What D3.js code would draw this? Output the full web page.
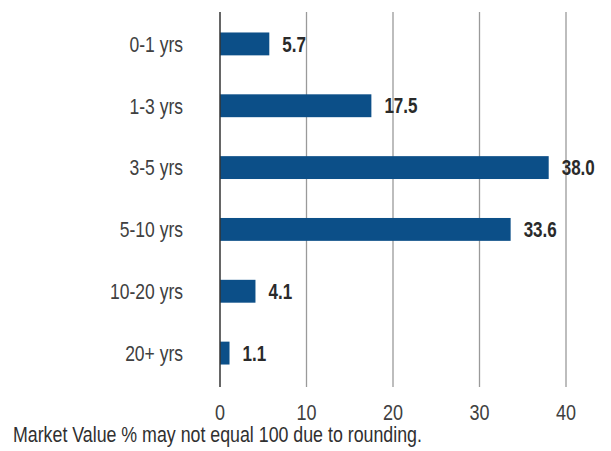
<!DOCTYPE html>
<html>
<head>
    <meta charset="utf-8">
    <title>Market Value by Maturity</title>
    <script src="https://d3js.org/d3.v7.min.js"></script>
    <style>
        body { margin: 0; background: #fff; }
        text { font-family: "Liberation Sans", Arial, sans-serif; }
    </style>
</head>
<body>
    <div id="chart"></div>
    <script>
        // data
        var categories = ["0-1 yrs", "1-3 yrs", "3-5 yrs", "5-10 yrs", "10-20 yrs", "20+ yrs"];
        var values = [5.7, 17.5, 38.0, 33.6, 4.1, 1.1];
        var tickValues = [0, 10, 20, 30, 40];
        var note = "Market Value % may not equal 100 due to rounding.";

        var width = 611, height = 451;
        var stretch = 1.25; // text in the picture is a bit tall for its width

        var svg = d3.select("#chart")
            .append("svg")
            .attr("width", width)
            .attr("height", height);

        var x = d3.scaleLinear()
            .domain([0, 40])
            .range([220, 566]);

        var y = d3.scaleBand()
            .domain(categories)
            .range([13, 384])
            .paddingInner(0.63)
            .paddingOuter(0.315);

        var plotTop = 12, plotBottom = 387;

        // vertical grid lines
        svg.selectAll("line.grid")
            .data(tickValues.slice(1))
            .enter()
            .append("line")
            .attr("class", "grid")
            .attr("x1", function(d) { return x(d); })
            .attr("x2", function(d) { return x(d); })
            .attr("y1", plotTop)
            .attr("y2", plotBottom)
            .attr("stroke", "#9a9a9a")
            .attr("stroke-width", 1.3);

        // bars
        svg.selectAll("rect.bar")
            .data(values)
            .enter()
            .append("rect")
            .attr("class", "bar")
            .attr("x", x(0))
            .attr("y", function(d, i) { return y(categories[i]); })
            .attr("width", function(d) { return x(d) - x(0); })
            .attr("height", y.bandwidth())
            .attr("fill", "#0c4f88");

        // zero axis line
        svg.append("line")
            .attr("x1", x(0))
            .attr("x2", x(0))
            .attr("y1", plotTop)
            .attr("y2", plotBottom)
            .attr("stroke", "#333")
            .attr("stroke-width", 1.5);

        function place(px, py) {
            return "translate(" + px + "," + py + ") scale(1," + stretch + ")";
        }

        // category labels
        svg.selectAll("text.cat")
            .data(categories)
            .enter()
            .append("text")
            .attr("class", "cat")
            .attr("transform", function(d) { return place(183, y(d) + y.bandwidth() / 2); })
            .attr("dy", "0.36em")
            .attr("text-anchor", "end")
            .style("font-size", "17.5px")
            .style("fill", "#404040")
            .text(function(d) { return d; });

        // value labels
        svg.selectAll("text.val")
            .data(values)
            .enter()
            .append("text")
            .attr("class", "val")
            .attr("transform", function(d, i) { return place(x(d) + 13, y(categories[i]) + y.bandwidth() / 2); })
            .attr("dy", "0.36em")
            .style("font-size", "17px")
            .style("font-weight", "bold")
            .style("fill", "#2a2a2a")
            .text(function(d) { return d.toFixed(1); });

        // x tick labels
        svg.selectAll("text.tick")
            .data(tickValues)
            .enter()
            .append("text")
            .attr("class", "tick")
            .attr("transform", function(d) { return place(x(d), 412); })
            .attr("dy", "0.36em")
            .attr("text-anchor", "middle")
            .style("font-size", "18px")
            .style("fill", "#404040")
            .text(function(d) { return d; });

        // footnote
        svg.append("text")
            .attr("transform", place(13, 442))
            .style("font-size", "17.8px")
            .style("fill", "#303030")
            .text(note);
    </script>
</body>
</html>
